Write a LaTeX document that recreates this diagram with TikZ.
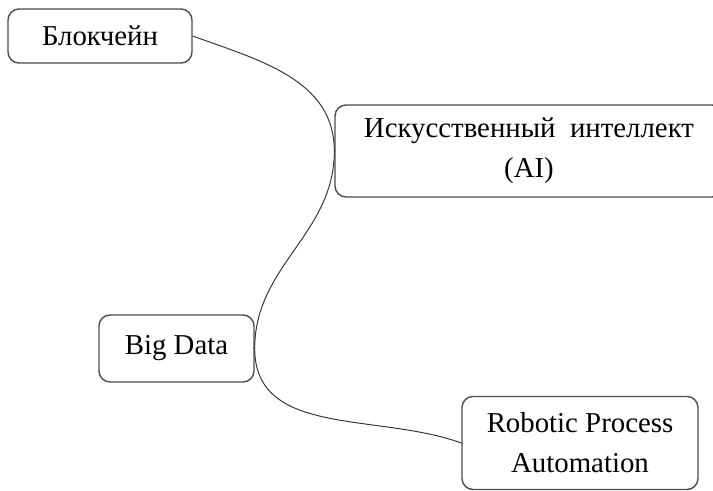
\documentclass[tikz,border=0pt]{standalone}
\usepackage{fontspec}
\setmainfont{Liberation Serif}
\usepackage{tikz}

\begin{document}
\begin{tikzpicture}[
    box/.style={draw=black!70, line width=0.8pt, rounded corners=0.22cm, align=center,
                font=\fontsize{16.4}{22.8}\selectfont, inner sep=0pt},
    link/.style={draw=black!80, line width=0.55pt}]
  \useasboundingbox (0,0) rectangle (14.26,-9.82);
   \draw (2.0,-0.72) node[box, minimum width=3.68cm, minimum height=1.08cm] (blok) {Блокчейн};
   \draw (10.58,-3.02) node[box, minimum width=7.76cm, minimum height=1.84cm] (ai) {Искусственный\ \ интеллект\\(AI)};
    \draw (3.53,-6.97) node[box, minimum width=3.1cm, minimum height=1.34cm] (bigdata) {Big Data};
    \draw (11.6,-8.86) node[box, minimum width=4.72cm, minimum height=1.86cm] (rpa) {Robotic Process\\Automation};

     \path[link] (blok.east) edge[out=-20, in=90] (ai.west);
     \path[link] (ai.west) edge[out=-90, in=90] (bigdata.east);
     \path[link] (bigdata.east) edge[out=-90, in=160] (rpa.west);
\end{tikzpicture}
\end{document}
